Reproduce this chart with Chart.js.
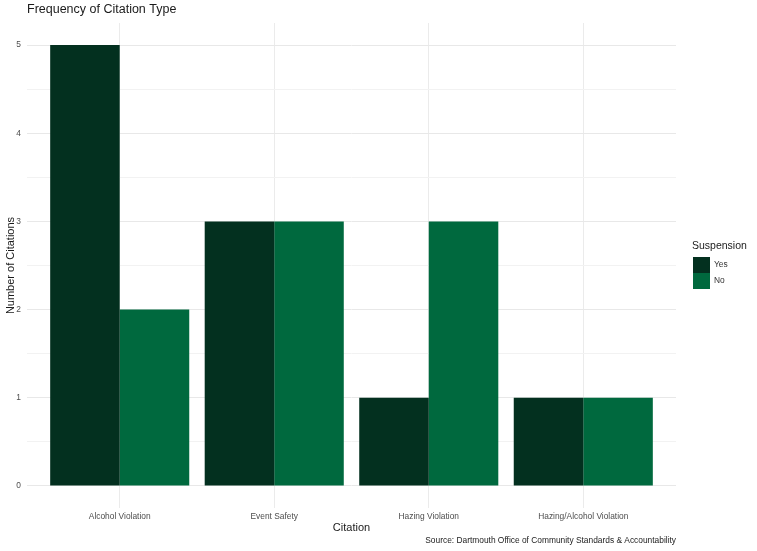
<!DOCTYPE html>
<html>
<head>
<meta charset="utf-8">
<script src="https://cdn.jsdelivr.net/npm/chart.js@4.4.1/dist/chart.umd.min.js"></script>
<style>
  html, body { margin: 0; padding: 0; background: #fff; }
  #chart { display: block; }
</style>
</head>
<body>
<canvas id="chart" width="757" height="551"></canvas>
<script>
const categories = ["Alcohol Violation", "Event Safety", "Hazing Violation", "Hazing/Alcohol Violation"];
const yesCounts = [5, 3, 1, 1];
const noCounts = [2, 3, 3, 1];
const seriesNames = ["Yes", "No"];
const seriesColors = ["#03301f", "#00693e"];
const yTickValues = [0, 0.5, 1, 1.5, 2, 2.5, 3, 3.5, 4, 4.5, 5];

const titleText = "Frequency of Citation Type";
const captionText = "Source: Dartmouth Office of Community Standards & Accountability";
const legendTitle = "Suspension";
const FONT = "'Liberation Sans', Arial, sans-serif";

// title, caption and a ggplot-like legend
const extras = {
  id: "extras",
  afterDraw(chart) {
    const ctx = chart.ctx;
    const area = chart.chartArea;
    ctx.save();
    ctx.textBaseline = "middle";

    ctx.fillStyle = "#1a1a1a";
    ctx.font = "12.5px " + FONT;
    ctx.textAlign = "left";
    ctx.fillText(titleText, area.left, 10);

    ctx.fillStyle = "#222";
    ctx.font = "8.4px " + FONT;
    ctx.textAlign = "right";
    ctx.fillText(captionText, area.right, 541);

    ctx.textAlign = "left";
    ctx.fillStyle = "#1a1a1a";
    ctx.font = "10.5px " + FONT;
    ctx.fillText(legendTitle, 692, 246);
    ctx.font = "8.4px " + FONT;
    chart.data.datasets.forEach((ds, i) => {
      const y = 257 + i * 16;
      ctx.fillStyle = ds.backgroundColor;
      ctx.fillRect(693, y, 17, 16);
      ctx.fillStyle = "#333";
      ctx.fillText(ds.label, 714, y + 8);
    });
    ctx.restore();
  }
};

const datasets = [yesCounts, noCounts].map((vals, i) => ({
  label: seriesNames[i],
  data: vals.map((v, j) => ({ x: j + 1, y: v })),
  backgroundColor: seriesColors[i],
  borderWidth: 0,
  categoryPercentage: 0.9,
  barPercentage: 1.0
}));

new Chart(document.getElementById("chart"), {
  type: "bar",
  data: { datasets },
  plugins: [extras],
  options: {
    responsive: false,
    animation: false,
    layout: { padding: { top: 23, right: 81, bottom: 0, left: 0 } },
    plugins: {
      legend: { display: false },
      tooltip: { enabled: false }
    },
    scales: {
      x: {
        type: "linear",
        min: 0.4,
        max: 4.6,
        offset: false,
        afterBuildTicks: s => { s.ticks = categories.map((c, i) => ({ value: i + 1 })); },
        afterFit: s => { s.height = 43; },
        ticks: {
          callback: v => categories[v - 1],
          autoSkip: false,
          maxRotation: 0,
          padding: 4,
          color: "#4d4d4d",
          font: { family: FONT, size: 8.4 }
        },
        grid: { color: "#ebebeb", drawTicks: false, offset: false },
        border: { display: false },
        title: {
          display: true,
          text: "Citation",
          color: "#1a1a1a",
          font: { family: FONT, size: 11 },
          padding: { top: 0, bottom: 16 }
        }
      },
      y: {
        min: -0.25,
        max: 5.25,
        afterBuildTicks: s => { s.ticks = yTickValues.map(v => ({ value: v })); },
        afterFit: s => { s.width = 27; },
        ticks: {
          callback: v => Number.isInteger(v) ? v : "",
          padding: 6,
          color: "#4d4d4d",
          font: { family: FONT, size: 8.4 }
        },
        grid: {
          color: c => Number.isInteger(c.tick.value) ? "#e8e8e8" : "#f2f2f2",
          drawTicks: false
        },
        border: { display: false },
        title: {
          display: true,
          text: "Number of Citations",
          color: "#1a1a1a",
          font: { family: FONT, size: 11 },
          padding: 4
        }
      }
    }
  }
});
</script>
</body>
</html>
